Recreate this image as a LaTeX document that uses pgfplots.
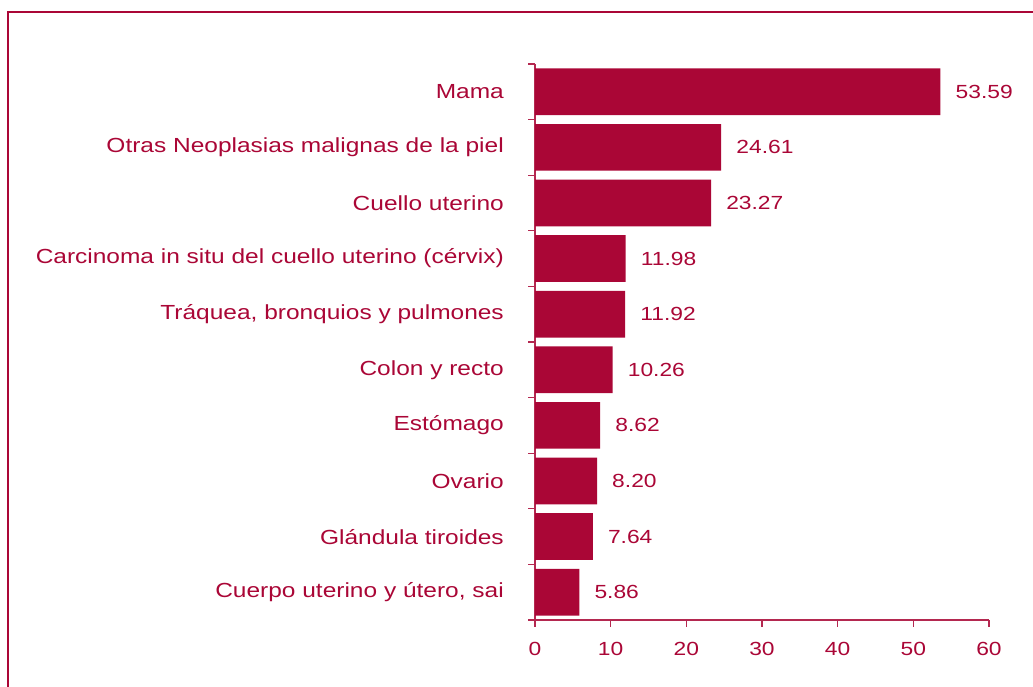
\documentclass[border=0pt]{standalone}
\usepackage{pgfplots}
\pgfplotsset{compat=1.18}
\usepackage{fontspec}
\setmainfont{Liberation Sans}[FakeStretch=1.2]
\definecolor{crim}{RGB}{170,6,54}
\definecolor{axc}{RGB}{180,40,80}
\begin{document}
\begin{tikzpicture}[x=1pt,y=1pt]
\useasboundingbox (0,0) rectangle (1033,687);
\draw[crim,line width=2.2pt] (8,-5) -- (8,675) -- (1040,675);
\begin{axis}[
  at={(535pt,67pt)}, anchor=south west,
  scale only axis, width=454pt, height=556pt,
  xmin=0, xmax=60, ymin=-0.5, ymax=9.5,
  xbar, bar width=0.84, bar shift=0pt,
  axis lines=left, axis line style={-, axc, line width=1.1pt},
  tick style={axc, line width=1.1pt},
  tick align=outside,
  major tick length=7pt,
  xtick={0,10,...,60},
  ytick={-0.5,0.5,...,9.5},
  yticklabels={},
  extra y ticks={0,1,2,3,4,5,6,7,8,9},
  extra y tick labels={Cuerpo uterino y útero{,} sai, Glándula tiroides, Ovario, Estómago, Colon y recto, {Tráquea, bronquios y pulmones}, Carcinoma in situ del cuello uterino (cérvix), Cuello uterino, Otras Neoplasias malignas de la piel, Mama},
  extra y tick style={tick style={draw=none}, yticklabel style={anchor=east, inner sep=0pt, xshift=-24pt, font=\fontsize{20.4}{24}\selectfont}},
  /pgf/number format/assume math mode=true,
  ticklabel style={crim, font=\fontsize{19}{23}\selectfont},
  xticklabel style={anchor=north, inner sep=0pt, yshift=-15pt},
  point meta=x,
  nodes near coords={\pgfmathprintnumber[fixed,zerofill,precision=2]{\pgfplotspointmeta}},
  nodes near coords style={anchor=west, inner sep=0pt, xshift=15pt, crim, font=\fontsize{19}{23}\selectfont},
]
\addplot[fill=crim, draw=none] coordinates {
(5.86,0) (7.64,1) (8.20,2) (8.62,3) (10.26,4) (11.92,5) (11.98,6) (23.27,7) (24.61,8) (53.59,9)};
\end{axis}
\end{tikzpicture}
\end{document}
